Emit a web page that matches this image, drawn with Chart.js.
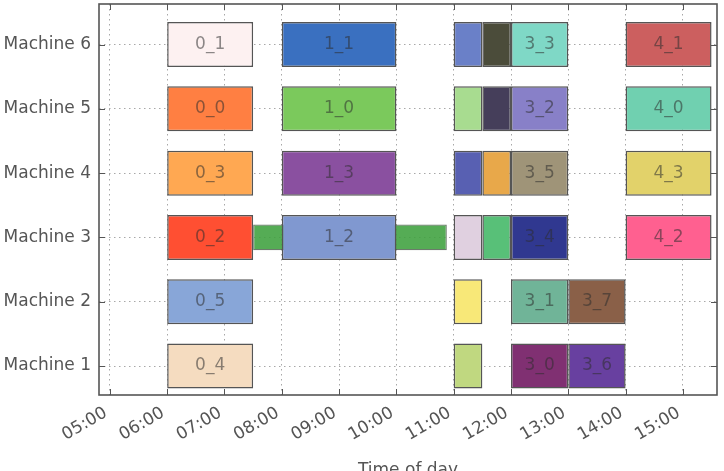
<!DOCTYPE html>
<html>
<head>
<meta charset="utf-8">
<script src="https://cdn.jsdelivr.net/npm/chart.js@4/dist/chart.umd.min.js"></script>
<style>
  html, body { margin: 0; padding: 0; background: #fff; overflow: hidden; }
  #wrap { width: 724px; height: 484px; }
</style>
</head>
<body>
<div id="wrap"><canvas id="gantt" width="724" height="484"></canvas></div>
<script>
// machines (y positions 1..6) and hour ticks
const machineNames = ['Machine 1', 'Machine 2', 'Machine 3', 'Machine 4', 'Machine 5', 'Machine 6'];
const hourTicks = [5, 6, 7, 8, 9, 10, 11, 12, 13, 14, 15];
const hourLabels = ['05:00', '06:00', '07:00', '08:00', '09:00', '10:00', '11:00', '12:00', '13:00', '14:00', '15:00'];

// operations: label, machine, start hour, end hour, colour
const opLabels  = ['0_1', '1_1', '', '', '3_3', '4_1',
                   '0_0', '1_0', '', '', '3_2', '4_0',
                   '0_3', '1_3', '', '', '3_5', '4_3',
                   '0_2', '1_2', '', '', '3_4', '4_2',
                   '0_5', '', '3_1', '3_7',
                   '0_4', '', '3_0', '3_6'];
const opMachine = [6, 6, 6, 6, 6, 6,
                   5, 5, 5, 5, 5, 5,
                   4, 4, 4, 4, 4, 4,
                   3, 3, 3, 3, 3, 3,
                   2, 2, 2, 2,
                   1, 1, 1, 1];
const opStart   = [6, 8, 11, 11.5, 12, 14,
                   6, 8, 11, 11.5, 12, 14,
                   6, 8, 11, 11.5, 12, 14,
                   6, 8, 11, 11.5, 12, 14,
                   6, 11, 12, 13,
                   6, 11, 12, 13];
const opEnd     = [7.5, 10, 11.5, 12, 13, 15.5,
                   7.5, 10, 11.5, 12, 13, 15.5,
                   7.5, 10, 11.5, 12, 13, 15.5,
                   7.5, 10, 11.5, 12, 13, 15.5,
                   7.5, 11.5, 13, 14,
                   7.5, 11.5, 13, 14];
const opColors  = ['#fdf1f1', '#3a70c0', '#6a80c8', '#4b4c3a', '#7fd8c6', '#cc5f5f',
                   '#ff7f42', '#7bc95c', '#a8dc90', '#453e5a', '#8880c8', '#70d0b0',
                   '#ffa852', '#8a50a0', '#5860b2', '#e8a84a', '#9f9478', '#e2d26a',
                   '#ff4f32', '#8098d0', '#e0d0e0', '#58c078', '#303890', '#ff6090',
                   '#88a6d8', '#f8e878', '#70b498', '#8a6048',
                   '#f5dcc0', '#c0d880', '#803072', '#6840a0'];

// thin transfer bar behind machine 3
const linkMachine = [3];
const linkStart = [7.5];
const linkEnd = [10.88];
const linkColors = ['rgba(62, 160, 62, 0.88)'];

const opData = opLabels.map((l, i) => ({ x: [opStart[i], opEnd[i]], y: opMachine[i], label: l }));
const linkData = linkMachine.map((m, i) => ({ x: [linkStart[i], linkEnd[i]], y: m }));

const edge = '#555';
const H = 484;

const barText = {
    id: 'barText',
    afterDatasetsDraw(chart) {
        const ctx = chart.ctx;
        const meta = chart.getDatasetMeta(0);
        ctx.save();
        ctx.font = '17px "DejaVu Sans"';
        ctx.fillStyle = 'rgba(45, 45, 45, 0.55)';
        ctx.textAlign = 'center';
        ctx.textBaseline = 'middle';
        meta.data.forEach((el, i) => {
            const txt = opData[i].label;
            if (!txt) return;
            const p = el.getProps(['x', 'y', 'base'], true);
            ctx.fillText(txt, (p.x + p.base) / 2, p.y);
        });
        ctx.restore();
    }
};

const frame = {
    id: 'frame',
    afterDatasetsDraw(chart) {
        const { ctx, chartArea: a, scales: { x, y } } = chart;
        ctx.save();
        ctx.strokeStyle = edge;
        ctx.lineWidth = 1;
        ctx.beginPath();
        x.ticks.forEach(t => {
            const px = Math.round(x.getPixelForValue(t.value)) + 0.5;
            ctx.moveTo(px, a.bottom); ctx.lineTo(px, a.bottom - 6);
            ctx.moveTo(px, a.top); ctx.lineTo(px, a.top + 6);
        });
        y.ticks.forEach(t => {
            const py = Math.round(y.getPixelForValue(t.value)) + 0.5;
            ctx.moveTo(a.left, py); ctx.lineTo(a.left + 6, py);
            ctx.moveTo(a.right, py); ctx.lineTo(a.right - 6, py);
        });
        ctx.stroke();
        ctx.lineWidth = 1.6;
        ctx.strokeRect(a.left, a.top, a.width, a.height);
        ctx.restore();
    }
};

Chart.defaults.font.family = '"DejaVu Sans", sans-serif';
Chart.defaults.font.size = 17;
Chart.defaults.color = '#555';

new Chart(document.getElementById('gantt'), {
    type: 'bar',
    data: {
        datasets: [
            {
                data: opData,
                backgroundColor: opColors,
                borderColor: edge,
                borderWidth: 1.5,
                borderSkipped: false,
                barPercentage: 0.7,
                categoryPercentage: 1,
                grouped: false
            },
            {
                data: linkData,
                backgroundColor: linkColors,
                borderColor: 'rgba(70, 90, 70, 0.8)',
                borderWidth: 1.2,
                borderSkipped: false,
                barPercentage: 0.4,
                categoryPercentage: 1,
                grouped: false
            }
        ]
    },
    options: {
        indexAxis: 'y',
        responsive: false,
        animation: false,
        layout: { padding: { top: 4, right: 7, left: 0, bottom: 0 } },
        plugins: { legend: { display: false }, tooltip: { enabled: false } },
        scales: {
            x: {
                type: 'linear',
                min: 4.81,
                max: 15.595,
                afterBuildTicks: s => { s.ticks = hourTicks.map(v => ({ value: v })); },
                afterFit: s => { s.height = H - 395; s.paddingRight = 0; },
                ticks: {
                    minRotation: 30,
                    maxRotation: 30,
                    padding: 8,
                    labelOffset: -4,
                    callback: (v) => hourLabels[hourTicks.indexOf(v)]
                },
                grid: { color: '#a8a8a8', lineWidth: 1, drawTicks: false },
                border: { display: false, dash: [1.5, 3.5] },
                title: { display: true, text: 'Time of day', padding: { top: 0, bottom: 3 } }
            },
            y: {
                type: 'linear',
                min: 0.55,
                max: 6.63,
                offset: false,
                afterBuildTicks: s => { s.ticks = machineNames.map((n, i) => ({ value: i + 1 })); },
                afterFit: s => { s.width = 99; s.paddingTop = 0; s.paddingBottom = 0; },
                ticks: {
                    padding: 8,
                    callback: (v) => machineNames[v - 1]
                },
                grid: { color: '#a8a8a8', lineWidth: 1, drawTicks: false, offset: false },
                border: { display: false, dash: [1.5, 3.5] }
            }
        }
    },
    plugins: [barText, frame]
});
</script>
</body>
</html>
